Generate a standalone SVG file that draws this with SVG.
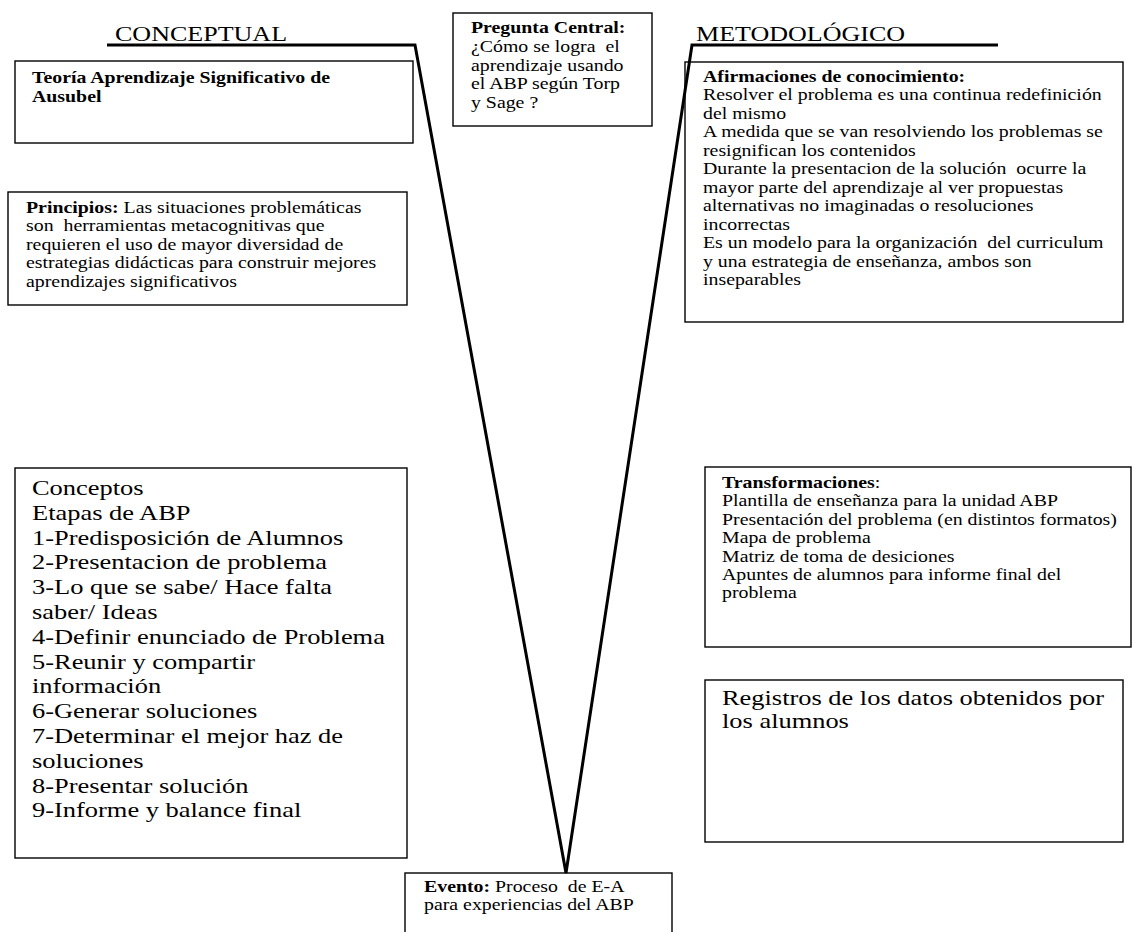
<svg xmlns="http://www.w3.org/2000/svg" width="1132" height="932" viewBox="0 0 1132 932">
<style>
  .box { fill: #fff; stroke: #000; stroke-width: 1.4; }
  .t { font-family: "Liberation Serif", "Times New Roman", serif; fill: #000; }
  .s16 { font-size: 16px; }
  .s21 { font-size: 21px; }
  .s215 { font-size: 21.5px; }
  .b { font-weight: bold; }
  .vline { fill: none; stroke: #000; stroke-width: 3; stroke-linejoin: miter; }
</style>
<rect width="1132" height="932" fill="#fff"/>

<g id="heading-conceptual">
  <g transform="translate(115 0) scale(1.24 1)">
    <text class="t s21" x="0" y="41">CONCEPTUAL</text>
  </g>
</g>
<g id="heading-metodologico">
  <g transform="translate(696 0) scale(1.24 1)">
    <text class="t s21" x="0" y="41">METODOLÓGICO</text>
  </g>
</g>

<g id="teoria">
  <rect class="box" x="15" y="61" width="398" height="82"/>
  <g transform="translate(32 0) scale(1.24 1)">
    <text class="t s16 b"><tspan x="0" y="83">Teoría Aprendizaje Significativo de</tspan><tspan x="0" y="102">Ausubel</tspan></text>
  </g>
</g>

<g id="principios">
  <rect class="box" x="8" y="192" width="399" height="113"/>
  <g transform="translate(26 0) scale(1.24 1)">
    <text class="t s16" xml:space="preserve"><tspan x="0" y="213"><tspan class="b">Principios:</tspan> Las situaciones problemáticas</tspan><tspan x="0" y="231.5">son  herramientas metacognitivas que</tspan><tspan x="0" y="250">requieren el uso de mayor diversidad de</tspan><tspan x="0" y="268.5">estrategias didácticas para construir mejores</tspan><tspan x="0" y="287">aprendizajes significativos</tspan></text>
  </g>
</g>

<g id="pregunta">
  <rect class="box" x="453" y="13" width="199" height="113"/>
  <g transform="translate(471 0) scale(1.24 1)">
    <text class="t s16" xml:space="preserve"><tspan class="b" x="0" y="33">Pregunta Central:</tspan><tspan x="0" y="51.8">¿Cómo se logra  el</tspan><tspan x="0" y="70.6">aprendizaje usando</tspan><tspan x="0" y="89.4">el ABP según Torp</tspan><tspan x="0" y="108.2">y Sage ?</tspan></text>
  </g>
</g>

<g id="afirmaciones">
  <rect class="box" x="685" y="62" width="438" height="260"/>
  <g transform="translate(703 0) scale(1.24 1)">
    <text class="t s16" xml:space="preserve"><tspan class="b" x="0" y="82">Afirmaciones de conocimiento:</tspan><tspan x="0" y="100.5">Resolver el problema es una continua redefinición</tspan><tspan x="0" y="119">del mismo</tspan><tspan x="0" y="137.5">A medida que se van resolviendo los problemas se</tspan><tspan x="0" y="156">resignifican los contenidos</tspan><tspan x="0" y="174.5">Durante la presentacion de la solución  ocurre la</tspan><tspan x="0" y="193">mayor parte del aprendizaje al ver propuestas</tspan><tspan x="0" y="211.5">alternativas no imaginadas o resoluciones</tspan><tspan x="0" y="230">incorrectas</tspan><tspan x="0" y="248.5">Es un modelo para la organización  del curriculum</tspan><tspan x="0" y="267">y una estrategia de enseñanza, ambos son</tspan><tspan x="0" y="285.5">inseparables</tspan></text>
  </g>
</g>

<g id="conceptos">
  <rect class="box" x="15" y="468" width="392" height="390"/>
  <g transform="translate(32 0) scale(1.23 1)">
    <text class="t s215"><tspan x="0" y="495">Conceptos</tspan><tspan x="0" y="519.8">Etapas de ABP</tspan><tspan x="0" y="544.6">1-Predisposición de Alumnos</tspan><tspan x="0" y="569.4">2-Presentacion de problema</tspan><tspan x="0" y="594.2">3-Lo que se sabe/ Hace falta</tspan><tspan x="0" y="619">saber/ Ideas</tspan><tspan x="0" y="643.8">4-Definir enunciado de Problema</tspan><tspan x="0" y="668.6">5-Reunir y compartir</tspan><tspan x="0" y="693.4">información</tspan><tspan x="0" y="718.2">6-Generar soluciones</tspan><tspan x="0" y="743">7-Determinar el mejor haz de</tspan><tspan x="0" y="767.8">soluciones</tspan><tspan x="0" y="792.6">8-Presentar solución</tspan><tspan x="0" y="817.4">9-Informe y balance final</tspan></text>
  </g>
</g>

<g id="transformaciones">
  <rect class="box" x="705" y="467" width="426" height="180"/>
  <g transform="translate(722 0) scale(1.24 1)">
    <text class="t s16"><tspan x="0" y="488"><tspan class="b">Transformaciones</tspan>:</tspan><tspan x="0" y="506.4">Plantilla de enseñanza para la unidad ABP</tspan><tspan x="0" y="524.8">Presentación del problema (en distintos formatos)</tspan><tspan x="0" y="543.2">Mapa de problema</tspan><tspan x="0" y="561.6">Matriz de toma de desiciones</tspan><tspan x="0" y="580">Apuntes de alumnos para informe final del</tspan><tspan x="0" y="598.4">problema</tspan></text>
  </g>
</g>

<g id="registros">
  <rect class="box" x="705" y="680" width="418" height="162"/>
  <g transform="translate(722 0) scale(1.24 1)">
    <text class="t" style="font-size:21.3px"><tspan x="0" y="705">Registros de los datos obtenidos por</tspan><tspan x="0" y="728.3">los alumnos</tspan></text>
  </g>
</g>

<g id="evento">
  <rect class="box" x="405" y="873" width="267" height="70"/>
  <g transform="translate(424 0) scale(1.24 1)">
    <text class="t s16" xml:space="preserve"><tspan x="0" y="892"><tspan class="b">Evento:</tspan> Proceso  de E-A</tspan><tspan x="0" y="910">para experiencias del ABP</tspan></text>
  </g>
</g>

<g id="connectors">
  <polyline class="vline" points="107,45 415,45 566,873 692,45 998,45"/>
</g>
</svg>
